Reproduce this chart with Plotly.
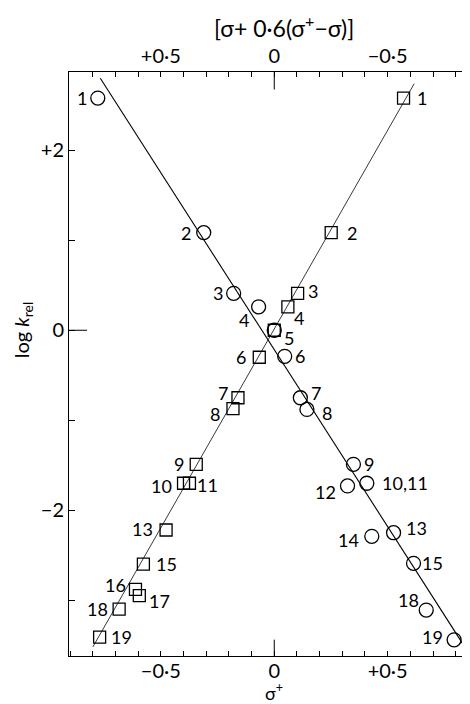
import numpy as np
import plotly.graph_objects as go

# Circles: plotted against sigma+ (bottom axis)
circ_x = [-0.778, -0.311, -0.179, -0.069, 0.0, 0.046, 0.115, 0.144, 0.349, 0.408,
          0.323, 0.526, 0.430, 0.614, 0.670, 0.793]
circ_y = [2.58, 1.085, 0.41, 0.26, 0.0, -0.29, -0.75, -0.88, -1.49, -1.70,
          -1.73, -2.25, -2.29, -2.59, -3.11, -3.44]
circ_lab = ["1", "2", "3", "4", "", "6", "7", "8", "9", "10,11",
            "12", "13", "14", "15", "18", "19"]

# Squares: plotted against [sigma + 0.6(sigma+ - sigma)] (top axis, reversed)
sq_x = [-0.570, -0.251, -0.103, -0.060, 0.0, 0.066, 0.160, 0.182, 0.344, 0.400,
        0.374, 0.477, 0.577, 0.612, 0.595, 0.684, 0.770]
sq_y = [2.58, 1.085, 0.41, 0.26, 0.0, -0.30, -0.75, -0.87, -1.49, -1.70,
        -1.70, -2.22, -2.60, -2.88, -2.95, -3.10, -3.41]
sq_lab = ["1", "2", "3", "4", "5", "6", "7", "8", "9", "10",
          "11", "13", "15", "16", "17", "18", "19"]

# Correlation lines
circ_line_x = [-0.767, 0.863]
circ_line_y = [2.80, -3.61]
sq_line_x = [-0.617, 0.800]
sq_line_y = [2.74, -3.52]

bottom_labels = {-0.5: "\u22120\u00b75", 0.0: "0", 0.5: "+0\u00b75"}
top_labels = {-0.5: "\u22120\u00b75", 0.0: "0", 0.5: "+0\u00b75"}
y_tickvals = [-3, -2, -1, 0, 1, 2]
y_ticktext = ["", "\u22122", "", "0", "", "+2"]

# label offsets from the marker (pixels) -- style only
circ_off = [(-16, 0), (-18, 0), (-16, 0), (-15, -13), (0, 0), (15, 0), (16, 5), (20, -4),
            (16, 0), (38, 0), (-22, -6), (23, 5), (-23, -4), (19, 0), (-18, 10), (-22, 3)]
sq_off = [(18, 0), (21, 0), (15, 2), (11, -11), (15, -8), (-18, 0), (-15, 5), (-18, -5),
          (-17, 0), (-22, -3), (18, -2), (-24, 1), (23, 0), (-20, 4), (20, -5), (-22, 0),
          (22, 0)]

FONT = "Lato"
lab_font = dict(family=FONT, size=18, color="black")

fig = go.Figure()
fig.add_trace(go.Scatter(x=circ_line_x, y=circ_line_y, mode="lines",
                         line=dict(color="black", width=1.1), xaxis="x", yaxis="y",
                         hoverinfo="skip"))
fig.add_trace(go.Scatter(x=sq_line_x, y=sq_line_y, mode="lines",
                         line=dict(color="#222", width=0.9), xaxis="x2", yaxis="y",
                         hoverinfo="skip"))
fig.add_trace(go.Scatter(x=circ_x, y=circ_y, mode="markers",
                         marker=dict(symbol="circle-open", size=14, color="black",
                                     line=dict(width=1.3)),
                         xaxis="x", yaxis="y"))
fig.add_trace(go.Scatter(x=sq_x, y=sq_y, mode="markers",
                         marker=dict(symbol="square-open", size=12, color="black",
                                     line=dict(width=1.3)),
                         xaxis="x2", yaxis="y"))

for xv, yv, t, (dx, dy) in zip(circ_x, circ_y, circ_lab, circ_off):
    if t:
        fig.add_annotation(x=xv, y=yv, xref="x", yref="y", text=t, showarrow=False,
                           xshift=dx, yshift=dy, xanchor="center", yanchor="middle",
                           font=lab_font)
for xv, yv, t, (dx, dy) in zip(sq_x, sq_y, sq_lab, sq_off):
    if t:
        fig.add_annotation(x=xv, y=yv, xref="x2", yref="y", text=t, showarrow=False,
                           xshift=dx, yshift=dy, xanchor="center", yanchor="middle",
                           font=lab_font)

minor_x = [round(v, 1) for v in np.arange(-0.9, 0.85, 0.1)]
bottom_text = [bottom_labels.get(v, "") for v in minor_x]
top_text = [top_labels.get(v, "") for v in minor_x]

tickfont = dict(family=FONT, size=20, color="black")
# page body has an 8px default margin, so the figure is sized to fill the rest
fig.update_layout(
    template="none",
    width=462, height=696,
    margin=dict(l=61, r=0, t=64, b=48),
    paper_bgcolor="white", plot_bgcolor="white",
    showlegend=False,
    xaxis=dict(range=[-0.905, 0.863], tickmode="array", tickvals=minor_x,
               ticktext=bottom_text, ticks="inside", ticklen=5, tickcolor="black",
               showline=True, linecolor="black", linewidth=1, showgrid=False,
               zeroline=False, tickfont=tickfont, automargin=False,
               ticklabelstandoff=-3),
    xaxis2=dict(range=[0.905, -0.863], overlaying="x", side="top", anchor="y",
                tickmode="array", tickvals=minor_x, ticktext=top_text,
                ticks="inside", ticklen=5, tickcolor="black",
                showline=True, linecolor="black", linewidth=1, showgrid=False,
                zeroline=False, tickfont=tickfont, automargin=False),
    yaxis=dict(range=[-3.62, 2.87], tickmode="array", tickvals=y_tickvals,
               ticktext=y_ticktext, ticks="inside", ticklen=6,
               tickcolor="black", showline=True, linecolor="black", linewidth=1,
               showgrid=False, zeroline=False, tickfont=tickfont, automargin=False),
)

# long zero ticks
fig.add_shape(type="line", xref="x", yref="paper", x0=0, x1=0, y0=0, y1=0.028,
              line=dict(color="black", width=1))
fig.add_shape(type="line", xref="x2", yref="paper", x0=0, x1=0, y0=1, y1=0.97,
              line=dict(color="black", width=1))
fig.add_shape(type="line", xref="paper", yref="y", x0=0, x1=0.045, y0=0, y1=0,
              line=dict(color="black", width=1))

fig.add_annotation(text="[\u03c3+ 0\u00b76(\u03c3<sup>+</sup>\u2212\u03c3)]", xref="x", yref="paper",
                   x=0, y=1, yshift=46, xshift=10, xanchor="center", yanchor="middle",
                   showarrow=False, font=dict(family=FONT, size=23, color="black"))
fig.add_annotation(text="\u03c3<sup>+</sup>", xref="x", yref="paper", x=0, y=0,
                   yshift=-36, xanchor="center", yanchor="middle",
                   showarrow=False, font=dict(family=FONT, size=18, color="black"))
fig.add_annotation(text="log <i>k</i><sub>rel</sub>", xref="paper", yref="y", x=0, y=0,
                   xshift=-47, textangle=-90, xanchor="center", yanchor="middle",
                   showarrow=False, font=dict(family=FONT, size=20, color="black"))

fig.write_html("out.html")
